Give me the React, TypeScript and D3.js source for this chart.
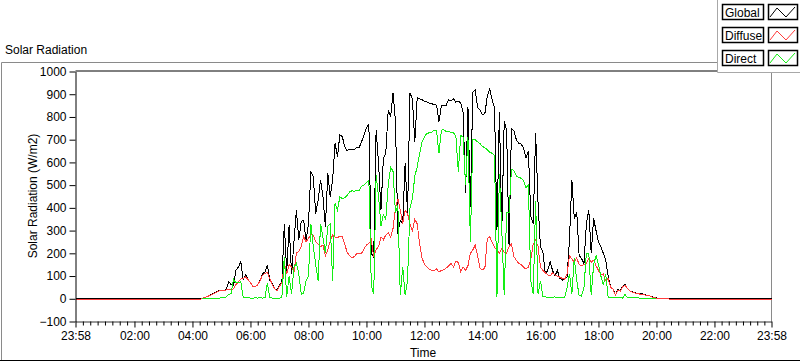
import React, { useEffect, useRef } from 'react';
import * as d3 from 'd3';

const W = 800;
const H = 361;

// sample grid: 5 minute readings, global / diffuse 04:00-21:00, direct 04:20-20:00
const sampleStepMin = 5;
const dayStart = '04:00';
const directStart = '04:20';
const nightGlobal = 0;
const nightDiffuse = -3;

const globalValues = [
  0, 0, 0, 0, 1, 6, 10, 15, 19, 25, 31, 37,
  37, 34, 44, 74, 63, 59, 125, 140, 162, 84, 106, 84,
  70, 55, 52, 63, 81, 110, 118, 150, 81, 66, 44, 37,
  59, 74, 331, 118, 324, 110, 250, 390, 258, 340, 346, 258,
  330, 560, 537, 375, 434, 523, 449, 317, 552, 449, 523, 685,
  626, 722, 714, 670, 652, 658, 655, 655, 666, 666, 692, 722,
  754, 766, 199, 184, 744, 596, 390, 620, 640, 830, 800, 906,
  780, 287, 346, 330, 596, 375, 906, 880, 690, 885, 880, 876,
  870, 866, 861, 858, 855, 852, 780, 850, 848, 852, 876, 870,
  880, 865, 870, 862, 820, 464, 845, 405, 910, 920, 840, 830,
  810, 815, 890, 922, 876, 840, 302, 820, 300, 780, 740, 230,
  750, 740, 700, 685, 680, 665, 620, 650, 361, 330, 729, 420,
  228, 205, 110, 125, 162, 125, 100, 125, 90, 82, 88, 95,
  260, 523, 350, 383, 190, 177, 155, 330, 390, 200, 353, 300,
  250, 230, 200, 170, 100, 52, 45, 15, 40, 35, 55, 62,
  45, 35, 30, 27, 24, 22, 22, 18, 16, 14, 10, 6,
  4, 2, 1, 0, 0, 0, 0, 0, 0, 0, 0, 0,
  0,
];

const diffuseValues = [
  -3, -3, -3, -3, 1, 5, 9, 14, 18, 23, 29, 34,
  36, 34, 40, 42, 40, 44, 62, 75, 86, 90, 96, 84,
  70, 55, 52, 62, 80, 104, 112, 116, 88, 64, 44, 36,
  55, 70, 155, 110, 150, 140, 118, 200, 210, 228, 275, 250,
  265, 282, 280, 250, 240, 230, 235, 190, 215, 255, 280, 272,
  268, 276, 275, 240, 205, 190, 180, 186, 198, 197, 200, 220,
  236, 243, 260, 184, 215, 230, 272, 260, 280, 290, 272, 310,
  400, 440, 390, 330, 390, 375, 330, 300, 350, 330, 240, 180,
  150, 140, 130, 125, 125, 132, 118, 125, 128, 135, 145, 155,
  140, 165, 160, 120, 140, 125, 145, 200, 215, 236, 190, 133,
  128, 135, 265, 272, 250, 225, 215, 200, 220, 205, 200, 230,
  240, 185, 170, 155, 150, 140, 130, 140, 175, 240, 258, 230,
  140, 125, 115, 105, 100, 115, 105, 100, 95, 90, 85, 110,
  190, 175, 160, 180, 150, 145, 150, 155, 177, 160, 170, 145,
  125, 105, 110, 80, 90, 50, 44, 15, 38, 34, 52, 60,
  44, 34, 29, 26, 23, 21, 21, 17, 15, 13, 9, 5,
  3, 1, 0, 0, 0, 0, -3, -3, -3, -3, -3, -3,
  -3,
];

const directValues = [
  0, 0, 0, 0, 1, 2, 3, 3,
  4, 5, 8, 20, 22, 86, 70, 72, 75, 5, 4, 4,
  3, 3, 4, 3, 5, 3, 4, 70, 5, 3, 2, 2,
  3, 5, 185, 10, 100, 20, 140, 155, 110, 20, 25, 80,
  100, 330, 230, 150, 80, 330, 270, 200, 320, 330, 80, 420,
  390, 449, 440, 445, 455, 470, 475, 472, 478, 478, 495, 500,
  512, 520, 60, 20, 545, 450, 320, 370, 350, 500, 580, 560,
  380, 410, 15, 140, 15, 80, 400, 440, 540, 580, 640, 690,
  712, 728, 730, 732, 742, 738, 640, 742, 744, 736, 736, 732,
  730, 715, 560, 718, 712, 500, 710, 250, 700, 700, 690, 683,
  670, 665, 656, 645, 640, 630, 10, 550, 300, 15, 380, 380,
  570, 565, 540, 535, 530, 520, 490, 500, 80, 20, 430, 20,
  80, 10, 8, 7, 6, 7, 8, 6, 5, 5, 6, 50,
  110, 20, 180, 80, 15, 12, 50, 200, 200, 15, 150, 190,
  150, 100, 60, 110, 8, 4, 4, 6, 4, 4, 3, 20,
  4, 4, 4, 4, 4, 3, 3, 3, 3, 3, 2, 1,
  0,
];

const seriesNames = ['Global', 'Diffuse', 'Direct'];
const seriesColors = ['#000000', '#ff3c3c', '#14ee14'];

const xTickLabels = ['23:58', '02:00', '04:00', '06:00', '08:00', '10:00', '12:00',
  '14:00', '16:00', '18:00', '20:00', '22:00', '23:58'];
const yTickValues = [-100, 0, 100, 200, 300, 400, 500, 600, 700, 800, 900, 1000];

const FONT = '"Liberation Sans", Arial, sans-serif';

const at = (day: number, hm: string) => {
  const [h, m] = hm.split(':').map(Number);
  return new Date(2021, 5, day, h, m);
};

const tStart = at(1, '23:58');
const tEnd = at(2, '23:58');

const samples = (start: string, values: number[]) =>
  values.map((v, i) => ({ t: d3.timeMinute.offset(at(2, start), i * sampleStepMin), v }));

export default function App() {
  const xAxisRef = useRef<SVGGElement>(null);
  const xMinorRef = useRef<SVGGElement>(null);
  const yAxisRef = useRef<SVGGElement>(null);

  const left = 75.5, right = 771.5, top = 71.5, bottom = 321.5;

  const x = d3.scaleTime().domain([tStart, tEnd]).range([left, right]);
  const y = d3.scaleLinear().domain([-100, 1000]).range([bottom, top]);

  const majorTimes = xTickLabels.map((l, i) => (i === 0 ? tStart : i === xTickLabels.length - 1 ? tEnd : at(2, l)));
  const minorTimes: Date[] = [];
  for (let i = 0; i < majorTimes.length - 1; i++) {
    const a = +majorTimes[i], b = +majorTimes[i + 1];
    for (let k = 1; k < 8; k++) minorTimes.push(new Date(a + ((b - a) * k) / 8));
  }

  const globalPts = [{ t: tStart, v: nightGlobal }, ...samples(dayStart, globalValues), { t: tEnd, v: nightGlobal }];
  const diffusePts = [{ t: tStart, v: nightDiffuse }, ...samples(dayStart, diffuseValues), { t: tEnd, v: nightDiffuse }];
  const directPts = samples(directStart, directValues);

  const line = d3.line<{ t: Date; v: number }>().x((d) => x(d.t)).y((d) => y(d.v));

  useEffect(() => {
    const yAxis = d3.axisLeft(y).tickValues(yTickValues).tickSize(6).tickSizeOuter(0).tickPadding(3)
      .tickFormat(d3.format('d'));
    const gy = d3.select(yAxisRef.current!);
    gy.call(yAxis as any);
    gy.attr('font-family', FONT).attr('font-size', 12);
    gy.select('.domain').attr('stroke', '#000');
    gy.selectAll('.tick text').attr('fill', '#000');

    const xAxis = d3.axisBottom(x).tickValues(majorTimes).tickSize(6).tickSizeOuter(0).tickPadding(4)
      .tickFormat((_d, i) => xTickLabels[i]);
    const gx = d3.select(xAxisRef.current!);
    gx.call(xAxis as any);
    gx.attr('font-family', FONT).attr('font-size', 12);
    gx.select('.domain').attr('stroke', '#333');
    gx.selectAll('.tick text').attr('fill', '#000');

    const xMinor = d3.axisBottom(x).tickValues(minorTimes).tickSize(4).tickSizeOuter(0).tickFormat(() => '');
    const gm = d3.select(xMinorRef.current!);
    gm.call(xMinor as any);
    gm.select('.domain').remove();
  }, []);

  const legendRows = seriesNames.map((name, i) => ({ name, color: seriesColors[i], y: 4 + i * 23 }));

  return (
    <svg width={W} height={H} style={{ position: 'fixed', left: 0, top: 0, background: '#fff' }}
      fontFamily={FONT}>
      {/* outer frame */}
      <path d="M1.5,360 L1.5,62.5 L800,62.5" fill="none" stroke="#8a8a8a" />
      <line x1={0} x2={800} y1={360.5} y2={360.5} stroke="#000" />
      <text x={5} y={54} fontSize={12} fill="#000">Solar Radiation</text>

      {/* plot area */}
      <rect x={left} y={top} width={right - left} height={bottom - top} fill="#fff" />
      <line x1={left} x2={right} y1={top - 0.5} y2={top - 0.5} stroke="#000" />
      <line x1={right} x2={right} y1={top} y2={bottom} stroke="#8a8a8a" />

      <g shapeRendering="crispEdges">
        <path d={line(globalPts) ?? ''} fill="none" stroke={seriesColors[0]} strokeWidth={1} />
        <path d={line(diffusePts) ?? ''} fill="none" stroke={seriesColors[1]} strokeWidth={1} />
        <path d={line(directPts) ?? ''} fill="none" stroke={seriesColors[2]} strokeWidth={1} />
      </g>

      <g ref={yAxisRef} transform={`translate(${left},0)`} />
      <g ref={xAxisRef} transform={`translate(0,${bottom})`} />
      <g ref={xMinorRef} transform={`translate(0,${bottom})`} />

      <text x={423} y={357} fontSize={12} textAnchor="middle" fill="#000">Time</text>
      <text transform="translate(37,196) rotate(-90)" fontSize={12} textAnchor="middle" fill="#000">
        Solar Radiation (W/m2)
      </text>

      {/* legend */}
      <rect x={717.5} y={0} width={83} height={72} fill="#fff" />
      <path d="M717.5,0 L717.5,72.5 L800,72.5" fill="none" stroke="#a8a8a8" />
      {legendRows.map((r) => (
        <g key={r.name}>
          <rect x={722.5} y={r.y + 0.5} width={41} height={15} fill="#fff" stroke="#000" strokeWidth={1.5} />
          <text x={725} y={r.y + 12.5} fontSize={12} fill="#000">{r.name}</text>
          <rect x={768.5} y={r.y + 0.5} width={29} height={15} fill="#fff" stroke="#000" strokeWidth={1.5} />
          <polyline points={`770,${r.y + 13} 777,${r.y + 4} 786,${r.y + 13} 795,${r.y + 3}`}
            fill="none" stroke={r.color} strokeWidth={1} />
        </g>
      ))}
    </svg>
  );
}
